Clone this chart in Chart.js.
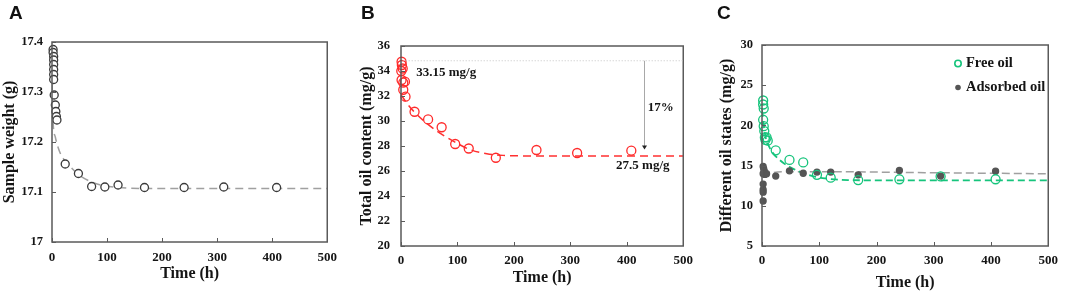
<!DOCTYPE html>
<html>
<head>
<meta charset="utf-8">
<script src="https://cdn.jsdelivr.net/npm/chart.js@4.4.1/dist/chart.umd.min.js"></script>
<style>
  html, body { margin: 0; padding: 0; background: #fff; }
  body { width: 1065px; height: 293px; position: relative; overflow: hidden; }
  canvas { position: absolute; top: 0; }
</style>
</head>
<body>
<canvas id="chartA" width="345" height="293" style="left:0px"></canvas>
<canvas id="chartB" width="345" height="293" style="left:355px"></canvas>
<canvas id="chartC" width="355" height="293" style="left:710px"></canvas>
<script>
// Shared x axis ticks (hours)
const timeTicks = [0, 100, 200, 300, 400, 500];

// Panel A - sample weight (g)
const weightTicks = [17, 17.1, 17.2, 17.3, 17.4];
const weightTime = [2, 2, 3, 3, 3, 3, 3, 3, 4, 6, 7, 8, 9, 24, 48, 72, 96, 120, 168, 240, 312, 408];
const weightValue = [17.385, 17.379, 17.371, 17.364, 17.355, 17.345, 17.335, 17.325, 17.294, 17.274, 17.261, 17.251, 17.244,
                     17.156, 17.137, 17.111, 17.11, 17.114, 17.109, 17.109, 17.11, 17.109];
const weightFitTime = [0, 2, 6, 16, 26, 49, 85, 120, 170, 250, 500];
const weightFitValue = [17.32, 17.24, 17.21, 17.175, 17.16, 17.134, 17.115, 17.109, 17.107, 17.107, 17.107];

// Panel B - total oil content (mg/g)
const oilTicks = [20, 22, 24, 26, 28, 30, 32, 34, 36];
const oilTime = [1, 1.5, 3, 0.5, 1, 7, 4, 4, 8, 24, 48, 72, 96, 120, 168, 240, 312, 408];
const oilValue = [34.74, 34.48, 34.2, 34.0, 33.28, 33.15, 33.07, 32.5, 31.95, 30.74, 30.13, 29.5, 28.16, 27.8, 27.06, 27.68, 27.44, 27.63];
const oilFitTime = [0, 10, 21, 42, 65, 94, 123, 152, 181, 250, 500];
const oilFitValue = [32.1, 31.45, 30.85, 29.95, 29.15, 28.35, 27.7, 27.38, 27.25, 27.2, 27.2];

// Panel C - free and adsorbed oil (mg/g)
const stateTicks = [5, 10, 15, 20, 25, 30];
const freeTime = [2, 2, 3, 2, 3, 4, 5, 6, 8, 10, 24, 48, 72, 96, 120, 168, 240, 312, 408];
const freeValue = [23.1, 22.6, 22.1, 20.7, 19.9, 19.3, 18.5, 18.2, 18.5, 18.1, 16.9, 15.7, 15.4, 13.85, 13.5, 13.2, 13.3, 13.65, 13.3];
const freeFitTime = [0, 5, 14, 31, 53, 82, 110, 150, 250, 500];
const freeFitValue = [21.9, 19.0, 17.15, 15.7, 14.66, 13.83, 13.42, 13.2, 13.15, 13.15];
const adsTime = [2, 3, 4, 2, 5, 8, 2, 2, 2, 2, 24, 48, 72, 96, 120, 168, 240, 312, 408];
const adsValue = [14.9, 14.6, 14.3, 14.0, 13.9, 14.0, 12.7, 12.0, 11.7, 10.6, 13.7, 14.35, 14.05, 14.2, 14.2, 13.85, 14.4, 13.7, 14.3];
const adsFitTime = [0, 20, 60, 120, 250, 500];
const adsFitValue = [13.9, 14.15, 14.25, 14.25, 14.15, 13.98];

const serif = '"Liberation Serif", "Times New Roman", serif';
const ink = '#151515';

const pairs = (xs, ys) => xs.map((x, i) => ({ x: x, y: ys[i] }));

// frame box, inward ticks and the panel letter
const framePlugin = {
  id: 'frame',
  afterDatasetsDraw(chart, args, opts) {
    const { ctx, chartArea: a, scales } = chart;
    ctx.save();
    ctx.strokeStyle = '#5a5a5a';
    ctx.lineWidth = 1.5;
    ctx.strokeRect(a.left, a.top, a.right - a.left, a.bottom - a.top);
    ctx.lineWidth = 1;
    ctx.beginPath();
    scales.x.ticks.forEach(t => {
      const px = Math.round(scales.x.getPixelForValue(t.value)) + 0.5;
      ctx.moveTo(px, a.bottom);
      ctx.lineTo(px, a.bottom - 4);
    });
    scales.y.ticks.forEach(t => {
      const py = Math.round(scales.y.getPixelForValue(t.value)) + 0.5;
      ctx.moveTo(a.left, py);
      ctx.lineTo(a.left + 4, py);
    });
    ctx.stroke();
    ctx.fillStyle = '#111';
    ctx.font = 'bold 19px "Liberation Sans", Arial, sans-serif';
    ctx.textBaseline = 'alphabetic';
    ctx.fillText(opts.letter, opts.lx, 19);
    ctx.restore();
  }
};

// notes on panel B
const oilNotes = {
  id: 'oilNotes',
  afterDatasetsDraw(chart) {
    if (chart.canvas.id !== 'chartB') return;
    const { ctx, scales: { x, y } } = chart;
    ctx.save();
    // dotted reference level
    ctx.strokeStyle = '#c4c4c4';
    ctx.lineWidth = 1;
    ctx.setLineDash([1, 2]);
    ctx.beginPath();
    ctx.moveTo(x.getPixelForValue(3), y.getPixelForValue(34.82));
    ctx.lineTo(x.getPixelForValue(500), y.getPixelForValue(34.82));
    ctx.stroke();
    ctx.setLineDash([]);
    // drop arrow
    const ax = Math.round(x.getPixelForValue(430)) + 0.5;
    const tip = y.getPixelForValue(27.72);
    ctx.strokeStyle = '#a8a8a8';
    ctx.beginPath();
    ctx.moveTo(ax, y.getPixelForValue(34.82));
    ctx.lineTo(ax, tip - 3);
    ctx.stroke();
    ctx.fillStyle = '#222';
    ctx.beginPath();
    ctx.moveTo(ax - 2.5, tip - 4);
    ctx.lineTo(ax + 2.5, tip - 4);
    ctx.lineTo(ax, tip);
    ctx.closePath();
    ctx.fill();
    // labels
    ctx.fillStyle = ink;
    ctx.textBaseline = 'middle';
    ctx.textAlign = 'left';
    ctx.font = 'bold 13px ' + serif;
    ctx.fillText('33.15 mg/g', x.getPixelForValue(27), y.getPixelForValue(33.86));
    ctx.fillText('17%', x.getPixelForValue(437), y.getPixelForValue(31.04));
    ctx.fillText('27.5 mg/g', x.getPixelForValue(381), y.getPixelForValue(26.42));
    ctx.restore();
  }
};

// legend on panel C
const stateLegend = {
  id: 'stateLegend',
  afterDatasetsDraw(chart) {
    if (chart.canvas.id !== 'chartC') return;
    const { ctx, chartArea: a } = chart;
    ctx.save();
    ctx.font = 'bold 14.5px ' + serif;
    ctx.textBaseline = 'middle';
    ctx.fillStyle = ink;
    ctx.fillText('Free oil', a.left + 204, a.top + 18.5);
    ctx.fillText('Adsorbed oil', a.left + 204, a.top + 42.5);
    ctx.strokeStyle = '#16c47c';
    ctx.lineWidth = 1.6;
    ctx.beginPath();
    ctx.arc(a.left + 196, a.top + 18.5, 3.2, 0, Math.PI * 2);
    ctx.stroke();
    ctx.fillStyle = '#555';
    ctx.beginPath();
    ctx.arc(a.left + 196, a.top + 42.5, 2.8, 0, Math.PI * 2);
    ctx.fill();
    ctx.restore();
  }
};

function buildOptions(p) {
  return {
    responsive: false,
    animation: false,
    layout: { padding: { top: p.top, right: p.right, left: 0, bottom: 0 } },
    plugins: {
      legend: { display: false },
      tooltip: { enabled: false },
      frame: { letter: p.letter, lx: p.lx }
    },
    scales: {
      x: {
        type: 'linear',
        min: 0,
        max: 500,
        afterBuildTicks: s => { s.ticks = timeTicks.map(v => ({ value: v })); },
        afterFit: s => { s.height = p.xHeight; },
        grid: { display: false, drawTicks: false },
        border: { display: false },
        ticks: { padding: p.xPad, color: ink, font: { family: serif, size: 13, weight: 'bold' }, callback: v => String(v) },
        title: { display: true, text: 'Time (h)', color: ink, font: { family: serif, size: 16, weight: 'bold' }, padding: { top: 0, bottom: p.xTitlePad } }
      },
      y: {
        type: 'linear',
        min: p.yTicks[0],
        max: p.yTicks[p.yTicks.length - 1],
        afterBuildTicks: s => { s.ticks = p.yTicks.map(v => ({ value: v })); },
        afterFit: s => { s.width = p.yWidth; },
        grid: { display: false, drawTicks: false },
        border: { display: false },
        ticks: { padding: p.yPad, color: ink, font: { family: serif, size: 12.5, weight: 'bold' }, callback: v => String(v) },
        title: { display: true, text: p.yTitle, color: ink, font: { family: serif, size: 16, weight: 'bold' }, padding: { top: p.yTitlePad, bottom: 0 } }
      }
    }
  };
}

function pointSet(data, color, fill, radius) {
  return {
    data: data,
    showLine: false,
    pointRadius: radius,
    pointBorderWidth: 1.3,
    pointBorderColor: color,
    pointBackgroundColor: fill,
    clip: false
  };
}

function fitSet(data, color, width, dash) {
  return {
    data: data,
    showLine: true,
    pointRadius: 0,
    borderColor: color,
    borderWidth: width,
    borderDash: dash,
    cubicInterpolationMode: 'monotone',
    fill: false
  };
}

function createChart(chartId, datasets, options) {
  const el = document.getElementById(chartId);
  if (!el) {
    console.error(`Element with id ${chartId} not found.`);
    return null;
  }
  return new Chart(el, {
    type: 'scatter',
    data: { datasets: datasets },
    options: options,
    plugins: [framePlugin, oilNotes, stateLegend]
  });
}

createChart('chartA', [
  pointSet(pairs(weightTime, weightValue), '#3a3a3a', '#ffffff', 4),
  fitSet(pairs(weightFitTime, weightFitValue), '#a0a0a0', 1.5, [8, 5])
], buildOptions({ letter: 'A', lx: 9, top: 42, right: 9, yWidth: 52, xHeight: 51, xPad: 8, yPad: 9,
  xTitlePad: 10, yTitlePad: 0, yTicks: weightTicks, yTitle: 'Sample weight (g)' }));

createChart('chartB', [
  pointSet(pairs(oilTime, oilValue), '#ff2a2a', 'rgba(255,255,255,0)', 4.5),
  fitSet(pairs(oilFitTime, oilFitValue), '#ff3030', 1.5, [8, 5])
], buildOptions({ letter: 'B', lx: 6, top: 46, right: 12, yWidth: 46, xHeight: 47, xPad: 7, yPad: 11,
  xTitlePad: 6, yTitlePad: 2, yTicks: oilTicks, yTitle: 'Total oil content (mg/g)' }));

createChart('chartC', [
  pointSet(pairs(freeTime, freeValue), '#16c47c', 'rgba(255,255,255,0)', 4.5),
  pointSet(pairs(adsTime, adsValue), '#555555', '#555555', 3),
  fitSet(pairs(freeFitTime, freeFitValue), '#16c47c', 1.8, [7, 4]),
  fitSet(pairs(adsFitTime, adsFitValue), '#a0a0a0', 1.5, [8, 4])
], buildOptions({ letter: 'C', lx: 7, top: 45, right: 10, yWidth: 52, xHeight: 47, xPad: 7, yPad: 9,
  xTitlePad: 1, yTitlePad: 7, yTicks: stateTicks, yTitle: 'Different oil states (mg/g)' }));
</script>
</body>
</html>
